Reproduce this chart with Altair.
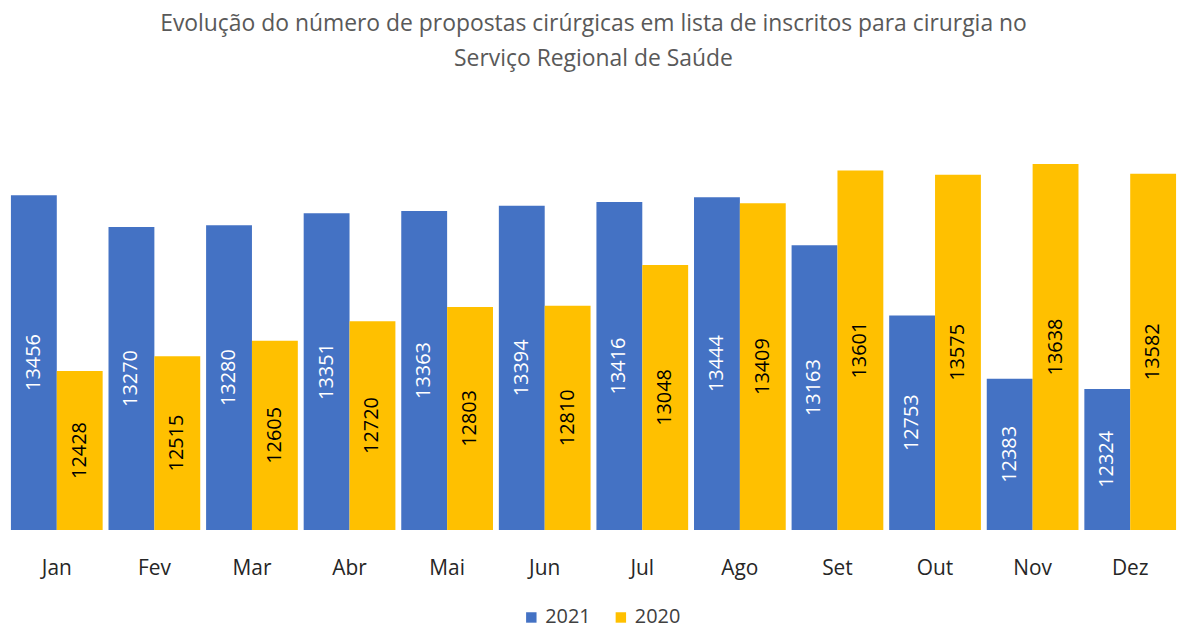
import altair as alt
import pandas as pd

months = ["Jan", "Fev", "Mar", "Abr", "Mai", "Jun", "Jul", "Ago", "Set", "Out", "Nov", "Dez"]
v2021 = [13456, 13270, 13280, 13351, 13363, 13394, 13416, 13444, 13163, 12753, 12383, 12324]
v2020 = [12428, 12515, 12605, 12720, 12803, 12810, 13048, 13409, 13601, 13575, 13638, 13582]
series = ["2021", "2020"]
colors = ["#4472C4", "#FFC000"]
base_value = 11500
top_value = 14000

rows = []
for m, a, b in zip(months, v2021, v2020):
    rows.append({"month": m, "series": "2021", "value": a})
    rows.append({"month": m, "series": "2020", "value": b})
df = pd.DataFrame(rows)

FONT = "Open Sans"

x_enc = alt.X("month:N", sort=months, title=None,
              scale=alt.Scale(paddingInner=0.06, paddingOuter=0.03),
              axis=alt.Axis(labelAngle=0, labelFontSize=21, labelFont=FONT, labelColor="#262626",
                            ticks=False, domain=False, labelPadding=28))
xo_enc = alt.XOffset("series:N", sort=series, scale=alt.Scale(paddingInner=0, paddingOuter=0))

base = alt.Chart(df).encode(x=x_enc, xOffset=xo_enc)

bars = base.mark_bar().encode(
    y=alt.Y("value:Q", scale=alt.Scale(domain=[base_value, top_value], zero=False, nice=False), axis=None),
    y2=alt.datum(base_value),
    color=alt.Color("series:N", sort=series,
                    scale=alt.Scale(domain=series, range=colors),
                    legend=alt.Legend(orient="none", legendX=516, legendY=508, direction="horizontal",
                                      title=None, padding=0,
                                      symbolType="square", symbolSize=110, symbolStrokeWidth=0,
                                      labelFontSize=20, labelFont=FONT, labelColor="#404040",
                                      columnPadding=20)),
)

labels = base.transform_calculate(
    mid=f"(datum.value + {base_value}) / 2"
).mark_text(angle=270, align="center", baseline="middle", fontSize=20, font=FONT).encode(
    y=alt.Y("mid:Q", scale=alt.Scale(domain=[base_value, top_value], zero=False, nice=False), axis=None),
    text=alt.Text("value:Q", format="d"),
    color=alt.condition("datum.series == '2021'", alt.value("white"), alt.value("black")),
)

chart = alt.layer(bars, labels).properties(
    width=1177,
    height=430,
    padding={"left": 0, "top": 4, "right": 0, "bottom": 0},
    title=alt.TitleParams(
        text=["Evolução do número de propostas cirúrgicas em lista de inscritos para cirurgia no",
              "Serviço Regional de Saúde"],
        fontSize=23, font=FONT, fontWeight="normal", color="#595959",
        lineHeight=35, offset=31, anchor="middle"),
).configure_view(stroke=None)

chart.save("out.html", embed_options={"renderer": "svg", "actions": False})
